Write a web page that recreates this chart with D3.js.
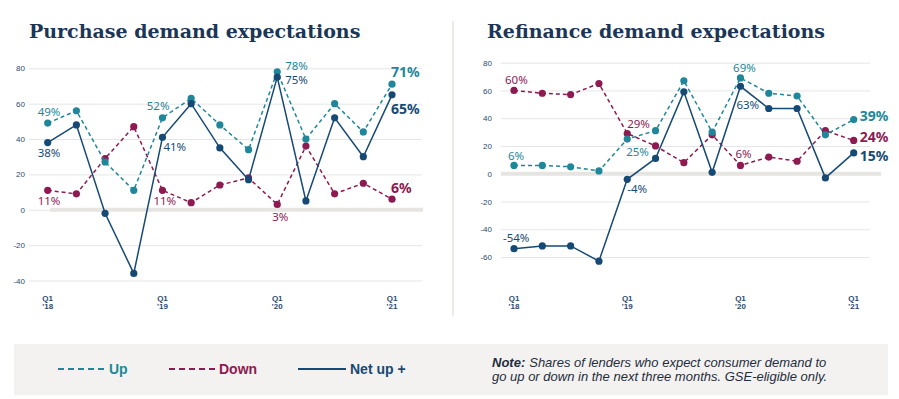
<!DOCTYPE html>
<html>
<head>
<meta charset="utf-8">
<script src="https://cdn.jsdelivr.net/npm/d3@7"></script>
<style>
  body { margin: 0; background: #fff; }
  svg { display: block; }
</style>
</head>
<body>
<svg id="chart" width="899" height="399"></svg>
<script>
/* Quarters on the x axis. */
const quarters = ["Q1 '18", "Q2 '18", "Q3 '18", "Q4 '18", "Q1 '19", "Q2 '19", "Q3 '19", "Q4 '19",
  "Q1 '20", "Q2 '20", "Q3 '20", "Q4 '20", "Q1 '21"]
const tickQuarters = [["Q1", "'18"], ["Q1", "'19"], ["Q1", "'20"], ["Q1", "'21"]]

/* Purchase demand. */
const purchaseUp = [49, 56, 27, 11, 52, 63, 48, 34, 78, 40, 60, 44, 71]
const purchaseDown = [11, 9, 29, 47, 11, 4, 14, 18, 3, 36, 9, 15, 6]
const purchaseNet = [38, 48, -2, -36, 41, 60, 35, 17, 75, 5, 52, 30, 65]
const purchaseTicks = [80, 60, 40, 20, 0, -20, -40]

/* Refinance demand. */
const refiUp = [6, 6, 5, 2, 25, 31, 67, 30, 69, 58, 56, 28, 39]
const refiDown = [60, 58, 57, 65, 29, 20, 8, 28, 6, 12, 9, 31, 24]
const refiNet = [-54, -52, -52, -63, -4, 11, 59, 1, 63, 47, 47, -3, 15]
const refiTicks = [80, 60, 40, 20, 0, -20, -40, -60]

/* Colours. */
const colors = { up: "#1f8799", down: "#8e1a52", net: "#164a74" }

const svg = d3.select("#chart")

/* Draw one panel. */
const drawPanel = (opt) => {
  const g = svg.append("g")

  const x = d3.scalePoint()
    .domain(quarters)
    .range(opt.xRange)

  const y = d3.scaleLinear()
    .domain(opt.yDomain)
    .range(opt.yRange)

  /* Title. */
  g.append("text")
    .attr("x", opt.titleX)
    .attr("y", 31)
    .attr("dominant-baseline", "central")
    .attr("font-family", "DejaVu Serif")
    .attr("font-weight", "bold")
    .attr("font-size", 19)
    .attr("fill", "#1b3657")
    .text(opt.title)

  /* Grid. */
  const gridW = opt.gridX[1] - opt.gridX[0]
  const grid = d3.axisRight(y)
    .tickValues(opt.ticks)
    .tickSize(gridW)
    .tickFormat("")
  g.append("g")
    .attr("transform", `translate(${opt.gridX[0]},0)`)
    .call(grid)
    .call(a => a.select(".domain").remove())
    .call(a => a.selectAll("line").attr("stroke", "#e6e6e6"))

  /* Tick labels. */
  const yAxis = d3.axisLeft(y)
    .tickValues(opt.ticks)
    .tickSize(0)
    .tickPadding(0)
    .tickFormat(d => String(d))
  g.append("g")
    .attr("transform", `translate(${opt.tickLabelX},0)`)
    .call(yAxis)
    .call(a => a.select(".domain").remove())
    .call(a => a.selectAll("text")
      .attr("font-family", "Liberation Sans")
      .attr("font-size", 8)
      .attr("fill", "#2b4a6e"))

  /* Zero band. */
  g.append("line")
    .attr("x1", opt.zeroX[0])
    .attr("x2", opt.zeroX[1])
    .attr("y1", y(0))
    .attr("y2", y(0))
    .attr("stroke", "#e6e5e1")
    .attr("stroke-width", 4)

  /* X labels. */
  const xl = g.append("g")
  tickQuarters.forEach((t, i) => {
    const xx = x(quarters[i * 4])
    t.forEach((part, j) => {
      xl.append("text")
        .attr("x", xx).attr("y", 298 + j * 8)
        .attr("text-anchor", "middle")
        .attr("dominant-baseline", "central")
        .attr("font-family", "Liberation Sans")
        .attr("font-weight", "bold")
        .attr("font-size", 8)
        .attr("fill", "#2b4a6e")
        .text(part)
    })
  })

  /* Lines. */
  const line = d3.line()
    .x((d, i) => x(quarters[i]))
    .y(d => y(d))

  const series = [
    { key: "down", values: opt.down, dash: "4,3" },
    { key: "up", values: opt.up, dash: "4,3" },
    { key: "net", values: opt.net, dash: null }
  ]

  series.forEach(s => {
    g.append("path")
      .datum(s.values)
      .attr("d", line)
      .attr("fill", "none")
      .attr("stroke", colors[s.key])
      .attr("stroke-width", 1.5)
      .attr("stroke-dasharray", s.dash)

    g.selectAll(".dot-" + s.key)
      .data(s.values)
      .join("circle")
      .attr("class", "dot-" + s.key)
      .attr("cx", (d, i) => x(quarters[i]))
      .attr("cy", d => y(d))
      .attr("r", 3.6)
      .attr("fill", colors[s.key])
  })

  /* Value labels. */
  opt.labels.forEach(l => {
    const v = opt[l.s][l.i]
    g.append("text")
      .attr("x", x(quarters[l.i]) + l.dx)
      .attr("y", y(v) + l.dy)
      .attr("text-anchor", l.anchor || "start")
      .attr("dominant-baseline", "central")
      .attr("font-family", "Noto Sans")
      .attr("font-weight", l.big ? "bold" : "normal")
      .attr("font-size", l.big ? 14 : 11.5)
      .attr("fill", colors[l.s])
      .text(v + "%")
  })
}

drawPanel({
  title: "Purchase demand expectations",
  titleX: 29,
  xRange: [47.7, 392],
  yDomain: [-40, 80],
  yRange: [280.5, 68.3],
  ticks: purchaseTicks,
  gridX: [29, 422],
  zeroX: [50, 423],
  tickLabelX: 25,
  up: purchaseUp, down: purchaseDown, net: purchaseNet,
  labels: [
    { s: "up", i: 0, dx: -10, dy: -12 },
    { s: "net", i: 0, dx: -10, dy: 10 },
    { s: "down", i: 0, dx: -10, dy: 10 },
    { s: "up", i: 4, dx: 7, dy: -12, anchor: "end" },
    { s: "net", i: 4, dx: 1, dy: 9 },
    { s: "down", i: 4, dx: -9, dy: 10 },
    { s: "up", i: 8, dx: 8, dy: -6 },
    { s: "net", i: 8, dx: 8, dy: 2 },
    { s: "down", i: 8, dx: 3, dy: 12, anchor: "middle" },
    { s: "up", i: 12, dx: -1, dy: -13, big: true },
    { s: "net", i: 12, dx: -1, dy: 14, big: true },
    { s: "down", i: 12, dx: -1, dy: -12, big: true }
  ]
})

drawPanel({
  title: "Refinance demand expectations",
  titleX: 487,
  xRange: [514, 853.7],
  yDomain: [-60, 80],
  yRange: [257, 62.7],
  ticks: refiTicks,
  gridX: [501, 870],
  zeroX: [501, 881],
  tickLabelX: 492,
  up: refiUp, down: refiDown, net: refiNet,
  labels: [
    { s: "down", i: 0, dx: -9, dy: -11 },
    { s: "up", i: 0, dx: -6, dy: -10 },
    { s: "net", i: 0, dx: -11, dy: -11 },
    { s: "down", i: 4, dx: 0, dy: -10 },
    { s: "up", i: 4, dx: -1, dy: 12 },
    { s: "net", i: 4, dx: 0, dy: 9 },
    { s: "up", i: 8, dx: 4, dy: -10, anchor: "middle" },
    { s: "net", i: 8, dx: -4, dy: 18 },
    { s: "down", i: 8, dx: -5, dy: -12 },
    { s: "up", i: 12, dx: 6, dy: -4, big: true },
    { s: "down", i: 12, dx: 6, dy: -4, big: true },
    { s: "net", i: 12, dx: 6, dy: 3, big: true }
  ]
})

/* Divider. */
svg.append("line")
  .attr("x1", 453).attr("x2", 453)
  .attr("y1", 21).attr("y2", 316)
  .attr("stroke", "#ebebe8")
  .attr("stroke-width", 2)

/* Legend box. */
svg.append("rect")
  .attr("x", 14).attr("y", 344)
  .attr("width", 874).attr("height", 51)
  .attr("fill", "#f3f2f0")

const legendItems = [
  { key: "up", label: "Up", x1: 58, x2: 105, dash: "6,4" },
  { key: "down", label: "Down", x1: 169, x2: 215, dash: "6,4" },
  { key: "net", label: "Net up +", x1: 298, x2: 346, dash: null }
]

legendItems.forEach(l => {
  svg.append("line")
    .attr("x1", l.x1).attr("x2", l.x2)
    .attr("y1", 369).attr("y2", 369)
    .attr("stroke", colors[l.key])
    .attr("stroke-width", 2)
    .attr("stroke-dasharray", l.dash)
  svg.append("text")
    .attr("x", l.x2 + 4).attr("y", 369)
    .attr("dominant-baseline", "central")
    .attr("font-family", "Liberation Sans Narrow, Liberation Sans")
    .attr("font-weight", "bold")
    .attr("font-size", 14)
    .attr("fill", colors[l.key])
    .text(l.label)
})

/* Note, bold lead-in measured so the rest follows it. */
const noteStyle = t => t
  .attr("font-family", "Liberation Sans Narrow, Liberation Sans")
  .attr("font-style", "italic")
  .attr("font-size", 13)
  .attr("fill", "#1f2d3d")
  .attr("dominant-baseline", "central")

const noteLead = noteStyle(svg.append("text"))
  .attr("x", 492).attr("y", 362)
  .attr("font-weight", "bold")
  .text("Note:")
const leadW = noteLead.node().getComputedTextLength()

noteStyle(svg.append("text"))
  .attr("x", 492 + leadW + 4).attr("y", 362)
  .text("Shares of lenders who expect consumer demand to")
noteStyle(svg.append("text"))
  .attr("x", 492).attr("y", 376)
  .text("go up or down in the next three months. GSE-eligible only.")
</script>
</body>
</html>
